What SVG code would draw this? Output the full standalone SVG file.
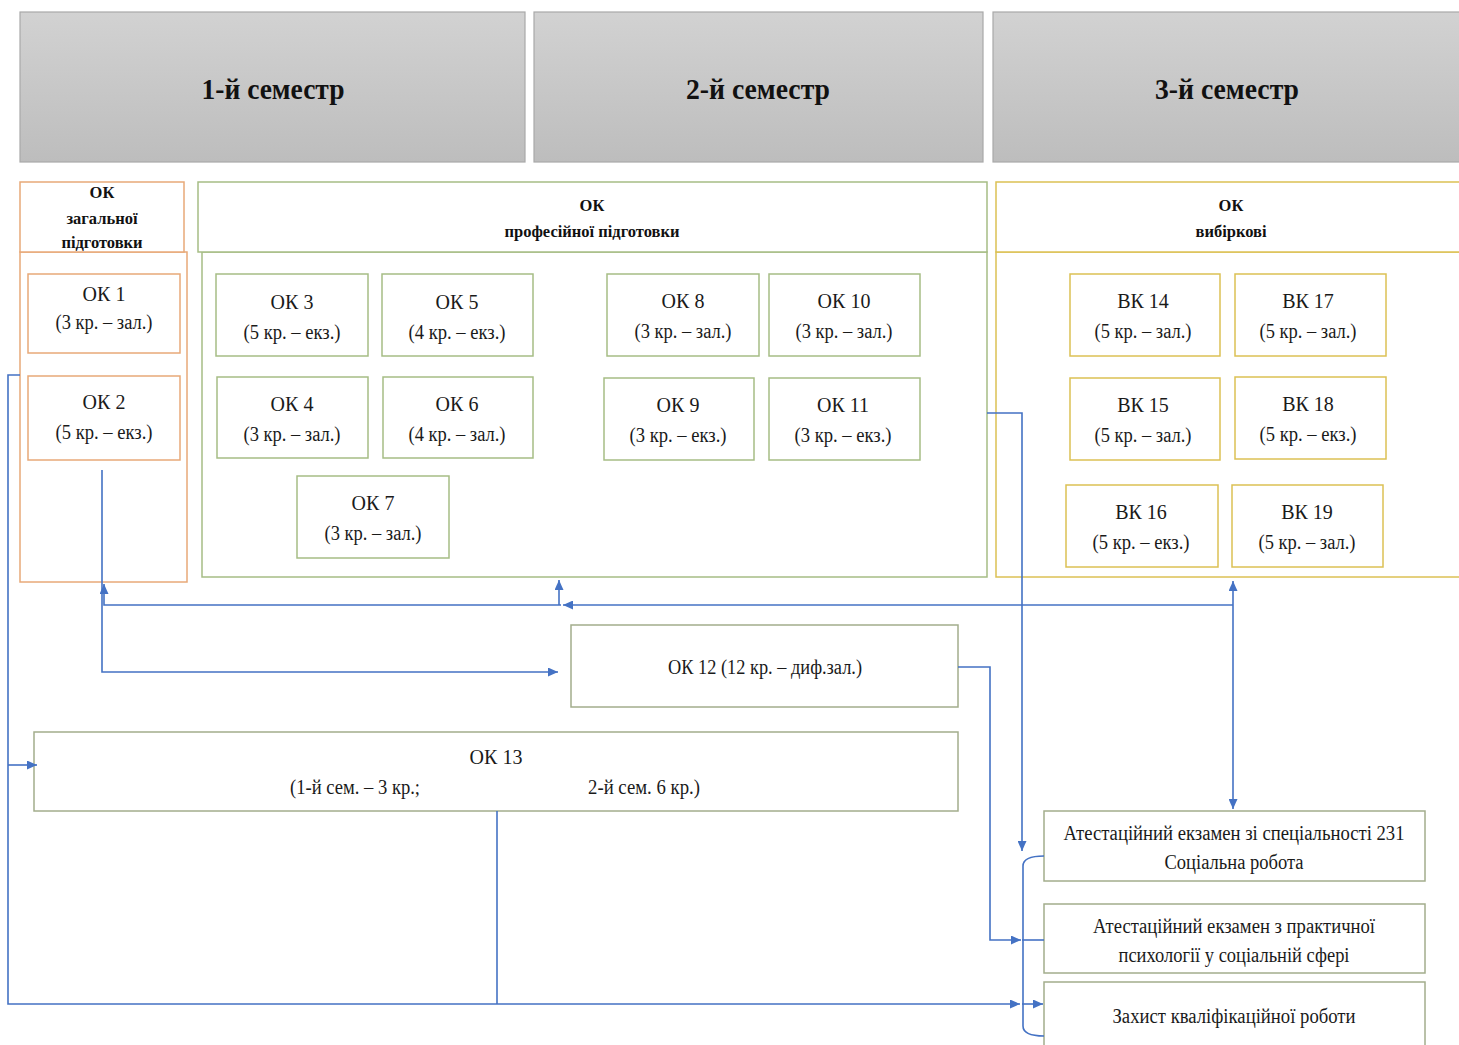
<svg xmlns="http://www.w3.org/2000/svg" width="1459" height="1045" viewBox="0 0 1459 1045">
<defs>
<linearGradient id="hg" x1="0" y1="0" x2="0" y2="1">
<stop offset="0" stop-color="#d2d2d2"/>
<stop offset="1" stop-color="#bdbdbd"/>
</linearGradient>
<marker id="ar" markerUnits="userSpaceOnUse" markerWidth="11" markerHeight="9" refX="10" refY="4.5" orient="auto">
<path d="M0,0 L10,4.5 L0,9 z" fill="#4472c4"/>
</marker>
<marker id="as" markerUnits="userSpaceOnUse" markerWidth="11" markerHeight="9" refX="0" refY="4.5" orient="auto">
<path d="M10,0 L0,4.5 L10,9 z" fill="#4472c4"/>
</marker>
</defs>
<style>
.hdr{fill:url(#hg);stroke:#a9a9a9;stroke-width:1.2}
.ht{font-family:"Liberation Serif",serif;font-weight:bold;font-size:30px;fill:#111;text-anchor:middle}
.or{fill:#fff;stroke:#e8a978;stroke-width:1.5}
.gr{fill:#fff;stroke:#a6bd85;stroke-width:1.5}
.ye{fill:#fff;stroke:#dcc154;stroke-width:1.5}
.gy{fill:#fff;stroke:#a3ad8c;stroke-width:1.5}
.bt{font-family:"Liberation Serif",serif;font-weight:bold;font-size:16.5px;fill:#111;text-anchor:middle}
.t{font-family:"Liberation Serif",serif;font-size:20px;fill:#1a1a1a;text-anchor:middle}
.cn{fill:none;stroke:#4472c4;stroke-width:1.6}
</style>

<g id="sem1"><rect class="hdr" x="20" y="12" width="505" height="150"/><text class="ht" x="273" y="99" textLength="143" lengthAdjust="spacingAndGlyphs">1-й семестр</text></g>
<g id="sem2"><rect class="hdr" x="534" y="12" width="449" height="150"/><text class="ht" x="758" y="99" textLength="144" lengthAdjust="spacingAndGlyphs">2-й семестр</text></g>
<g id="sem3"><rect class="hdr" x="993" y="12" width="470" height="150"/><text class="ht" x="1227" y="99" textLength="144" lengthAdjust="spacingAndGlyphs">3-й семестр</text></g>

<g id="grp-general">
<rect class="or" x="20" y="252" width="167" height="330"/>
<rect class="or" x="20" y="182" width="164" height="70"/>
<text class="bt" x="102" y="198">ОК</text>
<text class="bt" x="102" y="224">загальної</text>
<text class="bt" x="102" y="248">підготовки</text>
</g>
<g id="grp-prof">
<rect class="gr" x="202" y="252" width="785" height="325"/>
<rect class="gr" x="198" y="182" width="789" height="70"/>
<text class="bt" x="592" y="211">ОК</text>
<text class="bt" x="592" y="237">професійної підготовки</text>
</g>
<g id="grp-elect">
<rect class="ye" x="996" y="252" width="470" height="325"/>
<rect class="ye" x="996" y="182" width="470" height="70"/>
<text class="bt" x="1231" y="211">ОК</text>
<text class="bt" x="1231" y="237">вибіркові</text>
</g>

<g id="ok1"><rect class="or" x="28" y="274" width="152" height="79"/><text class="t" x="104" y="301">ОК 1</text><text class="t" x="104" y="329" textLength="97" lengthAdjust="spacingAndGlyphs">(3 кр. – зал.)</text></g>
<g id="ok2"><rect class="or" x="28" y="376" width="152" height="84"/><text class="t" x="104" y="409">ОК 2</text><text class="t" x="104" y="439" textLength="97" lengthAdjust="spacingAndGlyphs">(5 кр. – екз.)</text></g>

<g id="ok3"><rect class="gr" x="216" y="274" width="152" height="82"/><text class="t" x="292" y="309">ОК 3</text><text class="t" x="292" y="339" textLength="97" lengthAdjust="spacingAndGlyphs">(5 кр. – екз.)</text></g>
<g id="ok5"><rect class="gr" x="382" y="274" width="151" height="82"/><text class="t" x="457" y="309">ОК 5</text><text class="t" x="457" y="339" textLength="97" lengthAdjust="spacingAndGlyphs">(4 кр. – екз.)</text></g>
<g id="ok4"><rect class="gr" x="217" y="377" width="151" height="81"/><text class="t" x="292" y="411">ОК 4</text><text class="t" x="292" y="441" textLength="97" lengthAdjust="spacingAndGlyphs">(3 кр. – зал.)</text></g>
<g id="ok6"><rect class="gr" x="383" y="377" width="150" height="81"/><text class="t" x="457" y="411">ОК 6</text><text class="t" x="457" y="441" textLength="97" lengthAdjust="spacingAndGlyphs">(4 кр. – зал.)</text></g>
<g id="ok7"><rect class="gr" x="297" y="476" width="152" height="82"/><text class="t" x="373" y="510">ОК 7</text><text class="t" x="373" y="540" textLength="97" lengthAdjust="spacingAndGlyphs">(3 кр. – зал.)</text></g>

<g id="ok8"><rect class="gr" x="607" y="274" width="152" height="82"/><text class="t" x="683" y="308">ОК 8</text><text class="t" x="683" y="338" textLength="97" lengthAdjust="spacingAndGlyphs">(3 кр. – зал.)</text></g>
<g id="ok10"><rect class="gr" x="769" y="274" width="151" height="82"/><text class="t" x="844" y="308">ОК 10</text><text class="t" x="844" y="338" textLength="97" lengthAdjust="spacingAndGlyphs">(3 кр. – зал.)</text></g>
<g id="ok9"><rect class="gr" x="604" y="378" width="150" height="82"/><text class="t" x="678" y="412">ОК 9</text><text class="t" x="678" y="442" textLength="97" lengthAdjust="spacingAndGlyphs">(3 кр. – екз.)</text></g>
<g id="ok11"><rect class="gr" x="769" y="378" width="151" height="82"/><text class="t" x="843" y="412">ОК 11</text><text class="t" x="843" y="442" textLength="97" lengthAdjust="spacingAndGlyphs">(3 кр. – екз.)</text></g>

<g id="vk14"><rect class="ye" x="1070" y="274" width="150" height="82"/><text class="t" x="1143" y="308">ВК 14</text><text class="t" x="1143" y="338" textLength="97" lengthAdjust="spacingAndGlyphs">(5 кр. – зал.)</text></g>
<g id="vk17"><rect class="ye" x="1235" y="274" width="151" height="82"/><text class="t" x="1308" y="308">ВК 17</text><text class="t" x="1308" y="338" textLength="97" lengthAdjust="spacingAndGlyphs">(5 кр. – зал.)</text></g>
<g id="vk15"><rect class="ye" x="1070" y="378" width="150" height="82"/><text class="t" x="1143" y="412">ВК 15</text><text class="t" x="1143" y="442" textLength="97" lengthAdjust="spacingAndGlyphs">(5 кр. – зал.)</text></g>
<g id="vk18"><rect class="ye" x="1235" y="377" width="151" height="82"/><text class="t" x="1308" y="411">ВК 18</text><text class="t" x="1308" y="441" textLength="97" lengthAdjust="spacingAndGlyphs">(5 кр. – екз.)</text></g>
<g id="vk16"><rect class="ye" x="1066" y="485" width="152" height="82"/><text class="t" x="1141" y="519">ВК 16</text><text class="t" x="1141" y="549" textLength="97" lengthAdjust="spacingAndGlyphs">(5 кр. – екз.)</text></g>
<g id="vk19"><rect class="ye" x="1232" y="485" width="151" height="82"/><text class="t" x="1307" y="519">ВК 19</text><text class="t" x="1307" y="549" textLength="97" lengthAdjust="spacingAndGlyphs">(5 кр. – зал.)</text></g>

<g id="ok12"><rect class="gy" x="571" y="625" width="387" height="82"/><text class="t" x="765" y="674" textLength="194" lengthAdjust="spacingAndGlyphs">ОК 12 (12 кр. – диф.зал.)</text></g>
<g id="ok13"><rect class="gy" x="34" y="732" width="924" height="79"/><text class="t" x="496" y="764">ОК 13</text><text class="t" x="355" y="794" textLength="130" lengthAdjust="spacingAndGlyphs">(1-й сем. – 3 кр.;</text><text class="t" x="644" y="794" textLength="112" lengthAdjust="spacingAndGlyphs">2-й сем. 6 кр.)</text></g>

<g id="att1"><rect class="gy" x="1044" y="811" width="381" height="70"/><text class="t" x="1234" y="840" textLength="341" lengthAdjust="spacingAndGlyphs">Атестаційний екзамен зі спеціальності 231</text><text class="t" x="1234" y="869" textLength="139" lengthAdjust="spacingAndGlyphs">Соціальна робота</text></g>
<g id="att2"><rect class="gy" x="1044" y="904" width="381" height="69"/><text class="t" x="1234" y="933" textLength="282" lengthAdjust="spacingAndGlyphs">Атестаційний екзамен з практичної</text><text class="t" x="1234" y="962" textLength="231" lengthAdjust="spacingAndGlyphs">психології  у соціальній  сфері</text></g>
<g id="thesis"><rect class="gy" x="1044" y="982" width="381" height="70"/><text class="t" x="1234" y="1023" textLength="243" lengthAdjust="spacingAndGlyphs">Захист кваліфікаційної  роботи</text></g>

<g id="connectors">
<path class="cn" d="M20,375 H8 V1004 H1020" marker-end="url(#ar)"/>
<path class="cn" d="M1022,1004 H1043" marker-end="url(#ar)"/>
<path class="cn" d="M8,765 H37" marker-end="url(#ar)"/>
<path class="cn" d="M497,811 V1004"/>
<path class="cn" d="M987,413 H1022 V851" marker-end="url(#ar)"/>
<path class="cn" d="M1044,856 Q1023,856 1023,866 V1026 Q1023,1036 1044,1036"/>
<path class="cn" d="M958,667 H990 V940 H1021" marker-end="url(#ar)"/>
<path class="cn" d="M1022,940 H1044"/>
<path class="cn" d="M1233,581 V809" marker-start="url(#as)" marker-end="url(#ar)"/>
<path class="cn" d="M1233,605 H563" marker-end="url(#ar)"/>
<path class="cn" d="M561,605 H104 V584" marker-end="url(#ar)"/>
<path class="cn" d="M559,605 V580" marker-end="url(#ar)"/>
<path class="cn" d="M102,470 V672 H558" marker-end="url(#ar)"/>
</g>
</svg>
